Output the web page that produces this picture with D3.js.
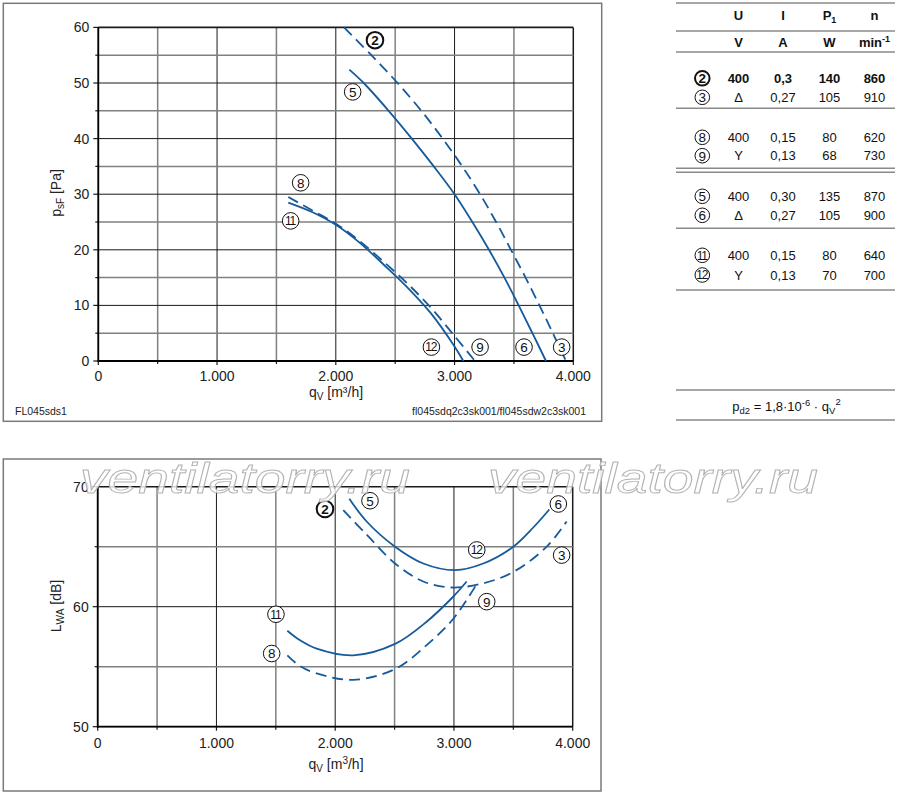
<!DOCTYPE html>
<html><head><meta charset="utf-8">
<script src="https://cdn.jsdelivr.net/npm/d3@7"></script>
<style>
body{margin:0;background:#fff}
svg{display:block;font-family:"Liberation Sans",Arial,Helvetica,sans-serif}
</style>
</head><body>
<svg id="c" width="900" height="797"></svg>
<script>
// ---------------- data ----------------
const qTicks = [0, 1000, 2000, 3000, 4000];
const qTickLabels = ["0", "1.000", "2.000", "3.000", "4.000"];
const pTicks = [0, 10, 20, 30, 40, 50, 60];
const lTicks = [50, 60, 70];

// pressure curves (qV m3/h, psF Pa)
const p23Q = [2069, 2300, 2520, 2720, 2900, 3065, 3215, 3350, 3475, 3598, 3715, 3828, 3938];
const p23P = [60, 55, 50, 45, 40, 35, 30, 25, 20, 15, 10, 5, 0];
const p56Q = [2114, 2235, 2445, 2640, 2825, 3000, 3150, 3290, 3420, 3540, 3656, 3770];
const p56P = [52.4, 50, 45, 40, 35, 30, 25, 20, 15, 10, 5, 0];
const p89Q = [1600, 1800, 2000, 2200, 2400, 2600, 2800, 3000, 3172];
const p89P = [29.5, 27.1, 24.7, 21.6, 17.9, 14.0, 9.6, 4.5, 0];
const p1112Q = [1600, 1800, 2000, 2200, 2400, 2600, 2800, 3000, 3074];
const p1112P = [28.5, 26.8, 24.5, 21.3, 17.4, 13.3, 8.6, 2.6, 0];

// sound power curves (qV m3/h, LWA dB)
const s56Q = [2119, 2265, 2504, 2742, 3009, 3247, 3500, 3668, 3803];
const s56L = [69.0, 67.1, 65.0, 63.6, 63.05, 63.6, 65.0, 66.6, 68.1];
const s23Q = [2068, 2265, 2504, 2742, 2981, 3247, 3500, 3781, 3949];
const s23L = [68.05, 66.0, 63.6, 62.1, 61.6, 61.95, 62.9, 65.0, 67.1];
const s1112Q = [1597, 1704, 1844, 2152, 2504, 2770, 2995, 3107];
const s1112L = [58.0, 57.2, 56.5, 55.95, 56.9, 58.75, 60.85, 62.1];
const s89Q = [1597, 1704, 1844, 2152, 2504, 2770, 2995, 3205];
const s89L = [55.95, 55.05, 54.45, 53.9, 54.8, 56.8, 59.0, 62.1];

// curve labels (anchor in data units)
const topLabelIds = ["2", "5", "8", "11", "12", "9", "6", "3"];
const topLabelQ = [2330, 2142, 1704, 1620, 2805, 3215, 3585, 3902];
const topLabelP = [57.7, 48.4, 32.05, 25.2, 2.5, 2.5, 2.5, 2.5];
const botLabelIds = ["2", "5", "6", "12", "3", "9", "11", "8"];
const botLabelQ = [1914, 2293, 3879, 3192, 3907, 3276, 1501, 1465];
const botLabelL = [68.14, 68.83, 68.56, 64.73, 64.3, 60.42, 59.37, 56.1];

// table
const tableIds = ["2", "3", "8", "9", "5", "6", "11", "12"];
const tableU = ["400", "Δ", "400", "Y", "400", "Δ", "400", "Y"];
const tableI = ["0,3", "0,27", "0,15", "0,13", "0,30", "0,27", "0,15", "0,13"];
const tableP = ["140", "105", "80", "68", "135", "105", "80", "70"];
const tableN = ["860", "910", "620", "730", "870", "900", "640", "700"];

// ---------------- drawing ----------------
const svg = d3.select("#c");
const BLUE = "#165a9b";
const MAJ = "#1a1a1a", MIN = "#808080", FRAME = "#7a7a7a";

// frames
svg.append("rect").attr("x", 3.3).attr("y", 3.3).attr("width", 598.4).attr("height", 418)
  .attr("fill", "none").attr("stroke", FRAME).attr("stroke-width", 1.5);
svg.append("rect").attr("x", 3.3).attr("y", 459).attr("width", 597.7).attr("height", 332)
  .attr("fill", "none").attr("stroke", FRAME).attr("stroke-width", 1.5);

const xTop = d3.scaleLinear().domain([0, 4000]).range([98.3, 573.3]);
const yTop = d3.scaleLinear().domain([0, 60]).range([361, 27.4]);
const xBot = d3.scaleLinear().domain([0, 4000]).range([97.7, 572.7]);
const yBot = d3.scaleLinear().domain([50, 70]).range([726.7, 486.7]);

function panel(x, y, yStep, yMajor, yTicks, xLabelY) {
  const g = svg.append("g");
  const [x0, x1] = x.range();
  const [y0, y1] = y.range();
  const [d0, d1] = y.domain();
  d3.range(0, 4001, 500).forEach(v => {
    const major = v % 1000 === 0;
    g.append("line").attr("x1", x(v)).attr("x2", x(v)).attr("y1", y0).attr("y2", y1)
      .attr("stroke", major ? MAJ : MIN).attr("stroke-width", major ? (v === 4000 ? 1.5 : 1) : 1.5);
    g.append("line").attr("x1", x(v)).attr("x2", x(v)).attr("y1", y0).attr("y2", y0 + (major ? 4 : 3))
      .attr("stroke", MAJ).attr("stroke-width", 1.2);
  });
  d3.range(d0, d1 + 0.001, yStep).forEach(v => {
    const major = (v - d0) % yMajor === 0;
    g.append("line").attr("x1", x0).attr("x2", x1).attr("y1", y(v)).attr("y2", y(v))
      .attr("stroke", major ? MAJ : MIN).attr("stroke-width", major ? (v === d1 ? 1.6 : 1) : 1.5);
    g.append("line").attr("x1", x0 - (major ? 5 : 3)).attr("x2", x0).attr("y1", y(v)).attr("y2", y(v))
      .attr("stroke", MAJ).attr("stroke-width", 1.2);
  });
  g.append("line").attr("x1", x0).attr("x2", x0).attr("y1", y0 + 1).attr("y2", y1)
    .attr("stroke", "#000").attr("stroke-width", 1.8);
  g.append("line").attr("x1", x0).attr("x2", x1).attr("y1", y0).attr("y2", y0)
    .attr("stroke", "#000").attr("stroke-width", 1.8);
  yTicks.forEach(v => {
    g.append("text").attr("x", x0 - 9).attr("y", y(v)).attr("dy", "0.36em")
      .attr("text-anchor", "end").attr("font-size", 14).attr("fill", "#222").text(v);
  });
  qTicks.forEach((v, i) => {
    g.append("text").attr("x", x(v)).attr("y", xLabelY)
      .attr("text-anchor", "middle").attr("font-size", 14).attr("fill", "#222").text(qTickLabels[i]);
  });
  return g;
}

const gTop = panel(xTop, yTop, 5, 10, pTicks, 381);
const gBot = panel(xBot, yBot, 5, 10, lTicks, 748);

// axis titles
function sub(t, s, extra) {
  t.append("tspan").attr("font-size", 10).attr("dy", 3).text(s);
  t.append("tspan").attr("dy", -3).text(extra);
}
let t = svg.append("text").attr("transform", "translate(61,193) rotate(-90)")
  .attr("text-anchor", "middle").attr("font-size", 14).attr("fill", "#222");
t.append("tspan").text("p"); sub(t, "sF", " [Pa]");
t = svg.append("text").attr("x", 336).attr("y", 397).attr("text-anchor", "middle")
  .attr("font-size", 14).attr("fill", "#222");
t.append("tspan").text("q"); sub(t, "V", " [m³/h]");

t = svg.append("text").attr("transform", "translate(61,606) rotate(-90)")
  .attr("text-anchor", "middle").attr("font-size", 14).attr("fill", "#222");
t.append("tspan").text("L"); sub(t, "WA", " [dB]");
t = svg.append("text").attr("x", 336).attr("y", 769).attr("text-anchor", "middle")
  .attr("font-size", 14).attr("fill", "#222");
t.append("tspan").text("q");
t.append("tspan").attr("font-size", 10).attr("dy", 3).text("V");
t.append("tspan").attr("dy", -3).text(" [m");
t.append("tspan").attr("font-size", 10).attr("dy", -5).text("3");
t.append("tspan").attr("dy", 5).text("/h]");

svg.append("text").attr("x", 15).attr("y", 415).attr("font-size", 10.5).attr("fill", "#222").text("FL045sds1");
svg.append("text").attr("x", 586).attr("y", 415).attr("text-anchor", "end").attr("font-size", 10.5)
  .attr("fill", "#222").text("fl045sdq2c3sk001/fl045sdw2c3sk001");

// curves
function curve(g, x, y, qs, vs, dashed) {
  const pts = qs.map((q, i) => [q, vs[i]]);
  const line = d3.line().x(d => x(d[0])).y(d => y(d[1])).curve(d3.curveCatmullRom.alpha(0.5));
  g.append("path").attr("d", line(pts)).attr("fill", "none").attr("stroke", BLUE)
    .attr("stroke-width", 1.8).attr("stroke-dasharray", dashed ? "11,6" : null);
}
curve(gTop, xTop, yTop, p23Q, p23P, true);
curve(gTop, xTop, yTop, p56Q, p56P, false);
curve(gTop, xTop, yTop, p89Q, p89P, true);
curve(gTop, xTop, yTop, p1112Q, p1112P, false);
curve(gBot, xBot, yBot, s23Q, s23L, true);
curve(gBot, xBot, yBot, s56Q, s56L, false);
curve(gBot, xBot, yBot, s89Q, s89L, true);
curve(gBot, xBot, yBot, s1112Q, s1112L, false);

// circled labels
function mark(g, cx, cy, id, r) {
  const bold = id === "2";
  r = r || 8.3;
  g.append("circle").attr("cx", cx).attr("cy", cy).attr("r", r)
    .attr("fill", "#fff").attr("stroke", "#111").attr("stroke-width", bold ? 2 : 1);
  const two = id.length > 1;
  g.append("text").attr("x", cx).attr("y", cy).attr("dy", "0.36em").attr("text-anchor", "middle")
    .attr("font-size", two ? 12 : 13.5).attr("letter-spacing", two ? -1.2 : 0)
    .attr("font-weight", bold ? "bold" : "normal").attr("fill", "#111")
    .attr("dx", two ? -0.6 : 0).text(id);
}
topLabelIds.forEach((id, i) => mark(gTop, xTop(topLabelQ[i]), yTop(topLabelP[i]), id));
botLabelIds.forEach((id, i) => mark(gBot, xBot(botLabelQ[i]), yBot(botLabelL[i]), id));

// table
const tg = svg.append("g");
const colX = [702.3, 738.5, 783, 829.5, 874.5];
const rowY = [78.3, 97.3, 137.3, 155.7, 196.3, 215.3, 255.3, 275];
function hline(y) {
  tg.append("line").attr("x1", 676).attr("x2", 895).attr("y1", y).attr("y2", y)
    .attr("stroke", "#8a8a8a").attr("stroke-width", 1.4);
}
[3, 31, 52, 108.3, 168.3, 172.3, 228.3, 290, 390, 420].forEach(hline);
["U", "I", "P", "n"].forEach((h, i) => {
  const tx = tg.append("text").attr("x", colX[i + 1]).attr("y", 20).attr("text-anchor", "middle")
    .attr("font-size", 13).attr("font-weight", "bold").attr("fill", "#111");
  tx.append("tspan").text(h);
  if (h === "P") tx.append("tspan").attr("font-size", 9).attr("dy", 3).text("1");
});
["V", "A", "W", "min"].forEach((h, i) => {
  const tx = tg.append("text").attr("x", colX[i + 1]).attr("y", 47).attr("text-anchor", "middle")
    .attr("font-size", 13).attr("font-weight", "bold").attr("fill", "#111");
  tx.append("tspan").text(h);
  if (h === "min") tx.append("tspan").attr("font-size", 9).attr("dy", -5).text("-1");
});
tableIds.forEach((id, i) => {
  mark(tg, colX[0], rowY[i], id, 7.3);
  const bold = i === 0;
  [tableU[i], tableI[i], tableP[i], tableN[i]].forEach((v, j) => {
    tg.append("text").attr("x", colX[j + 1]).attr("y", rowY[i]).attr("dy", "0.36em")
      .attr("text-anchor", "middle").attr("font-size", 13)
      .attr("font-weight", bold ? "bold" : "normal").attr("fill", "#111").text(v);
  });
});
// formula
const f = tg.append("text").attr("x", 786.5).attr("y", 411).attr("text-anchor", "middle")
  .attr("font-size", 13).attr("fill", "#111");
f.append("tspan").text("p");
f.append("tspan").attr("font-size", 9.5).attr("dy", 3).text("d2");
f.append("tspan").attr("dy", -3).text(" = 1,8·10");
f.append("tspan").attr("font-size", 9.5).attr("dy", -5).text("-6");
f.append("tspan").attr("dy", 5).text(" · q");
f.append("tspan").attr("font-size", 9.5).attr("dy", 3).text("V");
f.append("tspan").attr("font-size", 9.5).attr("dy", -9).text("2");

// watermark
[80, 488].forEach(wx => {
  svg.append("text").attr("x", wx).attr("y", 493).attr("font-size", 42)
    .attr("font-style", "italic").attr("textLength", 330).attr("lengthAdjust", "spacingAndGlyphs")
    .attr("fill", "#fff").attr("fill-opacity", 0.8).attr("stroke", "#b3b3b3").attr("stroke-width", 0.9)
    .text("ventilatorry.ru");
});
</script>
</body></html>
